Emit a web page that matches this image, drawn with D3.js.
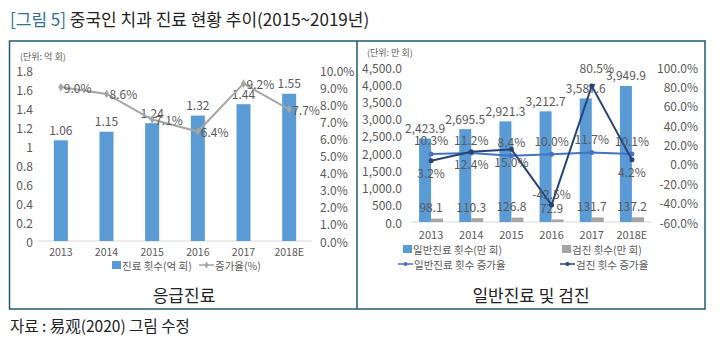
<!DOCTYPE html>
<html>
<head>
<meta charset="utf-8">
<script src="https://cdn.jsdelivr.net/npm/d3@7"></script>
<style>
  body { margin: 0; background: #fff; }
  svg { display: block; font-family: "Noto Sans CJK KR", "Noto Sans CJK SC", sans-serif; }
</style>
</head>
<body>
<svg id="chart" width="720" height="347"></svg>
<script>
// 응급진료 (left)
const years = ['2013', '2014', '2015', '2016', '2017', '2018E'];
const emergencyVisits = [1.06, 1.15, 1.24, 1.32, 1.44, 1.55];
const emergencyGrowth = [0.090, 0.086, 0.071, 0.064, 0.092, 0.077];
const leftTicks = [0, 0.2, 0.4, 0.6, 0.8, 1, 1.2, 1.4, 1.6, 1.8];
const leftPctTicks = [0, 0.01, 0.02, 0.03, 0.04, 0.05, 0.06, 0.07, 0.08, 0.09, 0.10];

// 일반진료 및 검진 (right)
const generalVisits = [2423.9, 2695.5, 2921.3, 3212.7, 3587.6, 3949.9];
const checkupVisits = [98.1, 110.3, 126.8, 72.9, 131.7, 137.2];
const generalGrowth = [0.103, 0.112, 0.084, 0.100, 0.117, 0.101];
const checkupGrowth = [0.032, 0.124, 0.150, -0.425, 0.805, 0.042];
const rightTicks = [0, 500, 1000, 1500, 2000, 2500, 3000, 3500, 4000, 4500];
const rightPctTicks = [-0.6, -0.4, -0.2, 0, 0.2, 0.4, 0.6, 0.8, 1.0];
// label above (-1) or below (1) the point for the checkup growth line
const checkupLabelSide = [1, 1, 1, -1, -1, 1];

const BLUE = '#5b9bd5';
const GRAY = '#a5a5a5';
const TXT = '#595959';
const FRAME = '#1f5b6e';

const svg = d3.select('#chart');
const loc = d3.formatLocale({decimal: '.', thousands: ',', grouping: [3], currency: ['', ''], minus: '-'});
const pct = loc.format('.1%');
const num = loc.format(',.1f');

// title
const title = svg.append('text')
  .attr('x', 10)
  .attr('y', 26)
  .attr('font-size', 17)
  .attr('fill', '#222')
  ;
title.append('tspan').attr('fill', '#2f6f96').text('[그림 5]');
title.append('tspan').text(' 중국인 치과 진료 현황 추이(2015~2019년)');

// frame
svg.append('rect')
  .attr('x', 9.5).attr('y', 41)
  .attr('width', 695.5).attr('height', 268)
  .attr('fill', 'none')
  .attr('stroke', FRAME)
  .attr('stroke-width', 1.5)
  ;
svg.append('line')
  .attr('x1', 357).attr('x2', 357)
  .attr('y1', 41).attr('y2', 309)
  .attr('stroke', FRAME)
  .attr('stroke-width', 1.5)
  ;

const small = (g, x, y, txt, anchor='start', size=11) => g.append('text')
  .attr('x', x).attr('y', y)
  .attr('font-size', size)
  .attr('fill', TXT)
  .attr('text-anchor', anchor)
  .attr('dominant-baseline', 'central')
  .text(txt);

// ---------- left chart ----------
const L = svg.append('g');
const lx = d3.scaleBand().domain(years).range([38, 312]);
const ly = d3.scaleLinear().domain([0, 1.8]).range([241, 70]);
const ly2 = d3.scaleLinear().domain([0, 0.10]).range([241, 70]);
const lcx = d => lx(d) + lx.bandwidth() / 2;

small(L, 20, 56, '(단위: 억 회)', 'start', 9);
leftTicks.forEach(t => small(L, 33, ly(t), String(+t.toFixed(1)), 'end', 12));
leftPctTicks.forEach(t => small(L, 320, ly2(t), pct(t), 'start', 12));

L.append('line')
  .attr('x1', 38).attr('x2', 312)
  .attr('y1', ly(0)).attr('y2', ly(0))
  .attr('stroke', '#d9d9d9')
  ;
years.forEach(y => small(L, lcx(y), 251, y, 'middle', 10.5));

L.selectAll('rect.bar')
  .data(emergencyVisits)
  .join('rect')
    .attr('class', 'bar')
    .attr('x', (d, i) => lcx(years[i]) - 7)
    .attr('width', 14)
    .attr('y', d => ly(d))
    .attr('height', d => ly(0) - ly(d))
    .attr('fill', BLUE)
  ;
emergencyVisits.forEach((d, i) => small(L, lcx(years[i]), ly(d) - 11, d.toFixed(2), 'middle', 12));

const lline = d3.line()
  .x((d, i) => lcx(years[i]))
  .y(d => ly2(d));
L.append('path')
  .attr('d', lline(emergencyGrowth))
  .attr('fill', 'none')
  .attr('stroke', GRAY)
  .attr('stroke-width', 2)
  ;
L.selectAll('path.mk')
  .data(emergencyGrowth)
  .join('path')
    .attr('class', 'mk')
    .attr('d', d3.symbol(d3.symbolDiamond, 22))
    .attr('transform', (d, i) => `translate(${lcx(years[i])},${ly2(d)})`)
    .attr('fill', GRAY)
  ;
emergencyGrowth.forEach((d, i) => small(L, lcx(years[i]) + 3, ly2(d), pct(d), 'start', 12));

// legend
L.append('rect').attr('x', 112).attr('y', 261).attr('width', 9).attr('height', 8).attr('fill', BLUE);
small(L, 122, 265, '진료 횟수(억 회)', 'start', 10.5);
L.append('line').attr('x1', 199).attr('x2', 214).attr('y1', 265).attr('y2', 265).attr('stroke', GRAY).attr('stroke-width', 1.5);
L.append('path').attr('d', d3.symbol(d3.symbolDiamond, 14)).attr('transform', 'translate(206.5,265)').attr('fill', GRAY);
small(L, 215, 265, '증가율(%)', 'start', 10.5);

svg.append('text')
  .attr('x', 184).attr('y', 302)
  .attr('font-size', 17)
  .attr('fill', '#222')
  .attr('text-anchor', 'middle')
  .text('응급진료');

// ---------- right chart ----------
const R = svg.append('g');
const rx = d3.scaleBand().domain(years).range([411, 652]);
const ry = d3.scaleLinear().domain([0, 4500]).range([222, 67]);
const ry2 = d3.scaleLinear().domain([-0.6, 1.0]).range([222, 67]);
const rcx = d => rx(d) + rx.bandwidth() / 2;

small(R, 367, 52, '(단위: 만 회)', 'start', 9);
rightTicks.forEach(t => small(R, 402, ry(t), num(t), 'end', 12));
rightPctTicks.forEach(t => small(R, 698, ry2(t), pct(t), 'end', 12));

R.append('line')
  .attr('x1', 411).attr('x2', 652)
  .attr('y1', ry(0)).attr('y2', ry(0))
  .attr('stroke', '#d9d9d9')
  ;
years.forEach(y => small(R, rcx(y), 234, y, 'middle', 11));

R.selectAll('rect.gen')
  .data(generalVisits)
  .join('rect')
    .attr('class', 'gen')
    .attr('x', (d, i) => rcx(years[i]) - 12)
    .attr('width', 12)
    .attr('y', d => ry(d))
    .attr('height', d => ry(0) - ry(d))
    .attr('fill', BLUE)
  ;
R.selectAll('rect.chk')
  .data(checkupVisits)
  .join('rect')
    .attr('class', 'chk')
    .attr('x', (d, i) => rcx(years[i]))
    .attr('width', 12)
    .attr('y', d => ry(d))
    .attr('height', d => ry(0) - ry(d))
    .attr('fill', GRAY)
  ;
generalVisits.forEach((d, i) => small(R, rcx(years[i]) - 6, ry(d) - 11, num(d), 'middle', 12));
checkupVisits.forEach((d, i) => small(R, rcx(years[i]), ry(d) - 12, num(d), 'middle', 12));

const rline = d3.line()
  .x((d, i) => rcx(years[i]))
  .y(d => ry2(d));
const series = [
  {vals: generalGrowth, color: '#4472c4'},
  {vals: checkupGrowth, color: '#264478'},
];
series.forEach(s => {
  R.append('path')
    .attr('d', rline(s.vals))
    .attr('fill', 'none')
    .attr('stroke', s.color)
    .attr('stroke-width', 2)
    ;
  R.selectAll(null)
    .data(s.vals)
    .join('circle')
      .attr('cx', (d, i) => rcx(years[i]))
      .attr('cy', d => ry2(d))
      .attr('r', 2.5)
      .attr('fill', s.color)
    ;
});
generalGrowth.forEach((d, i) => small(R, rcx(years[i]), ry2(d) - 14, pct(d), 'middle', 12));
checkupGrowth.forEach((d, i) => small(R, rcx(years[i]) + (i === 4 ? 5 : 0),
  ry2(d) + checkupLabelSide[i] * (i === 4 ? 18 : 12), pct(d), 'middle', 12));

// legend
R.append('rect').attr('x', 403).attr('y', 245).attr('width', 9).attr('height', 8).attr('fill', BLUE);
small(R, 413, 249, '일반진료 횟수(만 회)', 'start', 10.5);
R.append('rect').attr('x', 562).attr('y', 245).attr('width', 9).attr('height', 8).attr('fill', GRAY);
small(R, 572, 249, '검진 횟수(만 회)', 'start', 10.5);
[[398, '#4472c4', '일반진료 횟수 증가율'], [560, '#264478', '검진 횟수 증가율']].forEach(([x, c, t]) => {
  R.append('line').attr('x1', x).attr('x2', x + 15).attr('y1', 264).attr('y2', 264).attr('stroke', c).attr('stroke-width', 1.5);
  R.append('circle').attr('cx', x + 7.5).attr('cy', 264).attr('r', 2).attr('fill', c);
  small(R, x + 16, 264, t, 'start', 10.5);
});

svg.append('text')
  .attr('x', 531).attr('y', 302)
  .attr('font-size', 17)
  .attr('fill', '#222')
  .attr('text-anchor', 'middle')
  .text('일반진료 및 검진');

// source
svg.append('text')
  .attr('x', 10).attr('y', 332)
  .attr('font-size', 15.5)
  .attr('fill', '#222')
  .text('자료 : 易观(2020) 그림 수정');
</script>
</body>
</html>
